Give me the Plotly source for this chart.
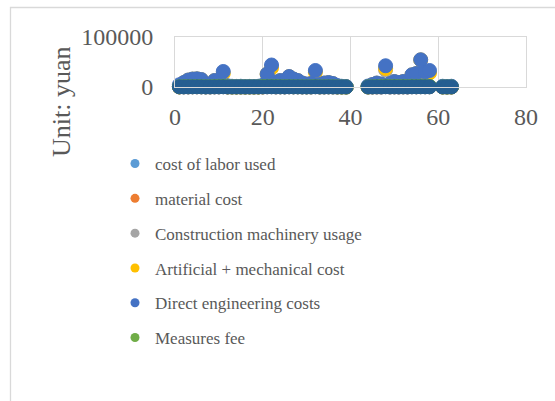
import plotly.graph_objects as go

# Row numbers of the cost items (rows 40-43 and 59-60 are empty)
row_no = [1, 2, 3, 4, 5, 6, 7, 8, 9, 10, 11, 12, 13, 14, 15, 16, 17, 18, 19, 20,
          21, 22, 23, 24, 25, 26, 27, 28, 29, 30, 31, 32, 33, 34, 35, 36, 37, 38, 39,
          44, 45, 46, 47, 48, 49, 50, 51, 52, 53, 54, 55, 56, 57, 58, 61, 62, 63]

labor_cost = [300, 500, 400, 600, 700, 600, 200, 300, 500, 500, 800, 200, 100, 100, 100, 50, 100, 100, 100, 300,
              700, 800, 400, 500, 400, 600, 500, 500, 300, 200, 300, 800, 200, 300, 400, 300, 100, 100, 50,
              100, 200, 300, 200, 800, 300, 400, 300, 400, 300, 700, 600, 800, 700, 700, 100, 50, 100]

material_cost = [200, 400, 300, 500, 500, 400, 200, 200, 400, 400, 700, 100, 100, 50, 100, 50, 100, 50, 100, 200,
                 600, 700, 300, 400, 300, 500, 400, 400, 200, 200, 200, 700, 100, 200, 300, 200, 100, 50, 50,
                 100, 100, 200, 200, 700, 200, 300, 200, 300, 200, 600, 500, 700, 600, 600, 50, 50, 50]

machinery_cost = [100, 200, 200, 300, 300, 200, 100, 100, 200, 200, 400, 100, 50, 50, 50, 20, 50, 50, 50, 100,
                  300, 400, 200, 200, 200, 300, 200, 200, 100, 100, 100, 400, 100, 100, 200, 100, 50, 20, 20,
                  50, 100, 100, 100, 34000, 100, 200, 100, 200, 100, 300, 300, 400, 300, 300, 20, 20, 20]

labor_machinery_cost = [400, 8700, 13700, 15700, 16200, 14700, 4700, 3700, 12700, 11700, 27000, 400, 200, 200, 200, 100, 200, 200, 200, 400,
                        25700, 38000, 9700, 12700, 8700, 20700, 15700, 12700, 7700, 5700, 6700, 29500, 4700, 7700, 8700, 6700, 400, 200, 100,
                        300, 4700, 7700, 5700, 37000, 6700, 10700, 8700, 10700, 8700, 24200, 26700, 54200, 29700, 28000, 200, 100, 200]

direct_cost = [4500, 9000, 14000, 16000, 16500, 15000, 5000, 4000, 13000, 12000, 31000, 2500, 1500, 1200, 1500, 800, 1200, 1000, 1500, 3500,
               26000, 44000, 10000, 13000, 9000, 21000, 16000, 13000, 8000, 6000, 7000, 33000, 5000, 8000, 9000, 7000, 3000, 1500, 1000,
               2000, 5000, 8000, 6000, 42500, 7000, 11000, 9000, 11000, 9000, 24500, 27000, 54500, 30000, 33000, 1500, 1000, 1500]

measures_fee = [500, 700, 800, 800, 900, 800, 500, 600, 1200, 1500, 1600, 400, 300, 200, 300, 200, 300, 200, 300, 1200,
                1500, 1600, 1400, 800, 600, 900, 700, 600, 500, 400, 500, 1000, 400, 500, 600, 500, 300, 200, 100,
                300, 500, 900, 1400, 1600, 1200, 1400, 1100, 1400, 1200, 1600, 1500, 1600, 1500, 1400, 200, 100, 200]

tax_cost = [300, 200, 300, 400, 400, 300, 200, 200, 300, 300, 500, 100, 100, 100, 100, 50, 100, 100, 100, 200,
            400, 500, 300, 300, 200, 400, 300, 300, 200, 200, 200, 500, 200, 200, 300, 200, 100, 100, 50,
            100, 200, 300, 200, 500, 200, 300, 200, 300, 200, 400, 400, 500, 400, 400, 100, 50, 100]

series = [
    ("cost of labor used", labor_cost, "#5B9BD5", True),
    ("material cost", material_cost, "#ED7D31", True),
    ("Construction machinery usage", machinery_cost, "#A5A5A5", True),
    ("Artificial + mechanical cost", labor_machinery_cost, "#FFC000", True),
    ("Direct engineering costs", direct_cost, "#4472C4", True),
    ("Measures fee", measures_fee, "#70AD47", True),
    ("Taxes", tax_cost, "#255E91", False),
]

SERIF = "Liberation Serif, Times New Roman, serif"
TEXT_GRAY = "#595959"
LINE_GRAY = "#D9D9D9"

W, H = 555, 401
L, R, T, B = 175, 29, 37, 314

fig = go.Figure()
for name, vals, color, in_legend in series:
    fig.add_trace(go.Scatter(
        x=row_no, y=vals, mode="markers", name=name,
        legendgroup=name, showlegend=False, cliponaxis=False,
        marker=dict(size=14, color=color, line=dict(color=color, width=1)),
        hoverinfo="x+y+name",
    ))
    if in_legend:
        # small swatch entry for the legend
        fig.add_trace(go.Scatter(
            x=[None], y=[None], mode="markers", name=name,
            legendgroup=name, showlegend=True,
            marker=dict(size=9, color=color),
        ))

pw, ph = W - L - R, H - T - B

def px_x(p):
    return (p - L) / pw

def px_y(p):
    return (H - B - p) / ph

# outer chart frame
fig.add_shape(type="rect", xref="paper", yref="paper",
              x0=px_x(10.5), x1=px_x(W + 5),
              y0=px_y(7.5), y1=px_y(H + 10),
              line=dict(color=LINE_GRAY, width=1.3), fillcolor="rgba(0,0,0,0)", layer="below")

# vertical axis title
fig.add_annotation(text="Unit: yuan", textangle=-90, showarrow=False,
                   xref="paper", yref="paper", x=px_x(61), y=px_y(102),
                   xanchor="center", yanchor="middle",
                   font=dict(family=SERIF, size=26, color=TEXT_GRAY))

fig.update_layout(
    width=W, height=H,
    margin=dict(l=L, r=R, t=T, b=B, pad=0),
    paper_bgcolor="white", plot_bgcolor="white",
    font=dict(family=SERIF, color=TEXT_GRAY),
    showlegend=True,
    legend=dict(
        x=px_x(115), xanchor="left",
        y=px_y(146), yanchor="top",
        font=dict(family=SERIF, size=17, color=TEXT_GRAY),
        traceorder="grouped", tracegroupgap=9.7,
        bgcolor="rgba(0,0,0,0)", itemsizing="trace",
        maxheight=390,
    ),
    xaxis=dict(
        range=[0, 80], dtick=20, tick0=0,
        showgrid=True, gridcolor=LINE_GRAY, gridwidth=1,
        showline=True, mirror=True, linecolor=LINE_GRAY, linewidth=1,
        zeroline=False, ticks="", ticklabelstandoff=8,
        tickfont=dict(family=SERIF, size=24, color=TEXT_GRAY),
    ),
    yaxis=dict(
        range=[0, 100000], dtick=100000, tick0=0, tickformat="d",
        showgrid=True, gridcolor=LINE_GRAY, gridwidth=1,
        showline=True, mirror=True, linecolor=LINE_GRAY, linewidth=1,
        zeroline=False, ticks="", ticklabelstandoff=16,
        tickfont=dict(family=SERIF, size=24, color=TEXT_GRAY),
    ),
)

fig.write_html("out.html")
